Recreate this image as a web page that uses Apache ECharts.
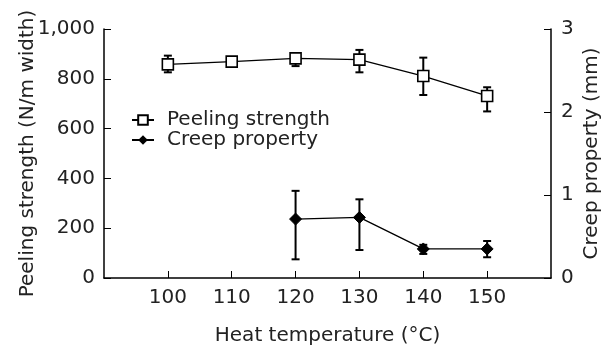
<!DOCTYPE html>
<html>
<head>
<meta charset="utf-8">
<script src="https://cdn.jsdelivr.net/npm/echarts@6/dist/echarts.min.js"></script>
<style>
  html, body { margin: 0; padding: 0; background: #fff; }
  #main { width: 613px; height: 351px; }
</style>
</head>
<body>
<div id="main"></div>
<script>
// heat temperature (°C)
var temps = [100, 110, 120, 130, 140, 150];
var xTicks = [100, 110, 120, 130, 140, 150];

// peeling strength (N/m width) with error limits
var peelMean = [858, 869, 882, 877, 811, 731];
var peelLow = [826, 866, 851, 826, 735, 669];
var peelHigh = [893, 872, 893, 916, 885, 766];

// creep property (mm), only measured from 120 °C
var creepTemps = [120, 130, 140, 150];
var creepMean = [0.71, 0.73, 0.35, 0.35];
var creepLow = [0.225, 0.337, 0.29, 0.25];
var creepHigh = [1.05, 0.948, 0.40, 0.446];

var FONT = 'DejaVu Sans';
var FS = 20;
var TXT = '#222';

function pairs(xs, ys) {
	var out = [];
	for (var i = 0; i < xs.length; i++) out.push([xs[i], ys[i]]);
	return out;
}
function triples(xs, lo, hi) {
	var out = [];
	for (var i = 0; i < xs.length; i++) out.push([xs[i], lo[i], hi[i]]);
	return out;
}

// error bar: vertical line with small caps
function errorBar(params, api) {
	var x = api.value(0);
	var lo = api.coord([x, api.value(1)]);
	var hi = api.coord([x, api.value(2)]);
	var w = 4;
	var st = { stroke: '#000', lineWidth: 2 };
	return {
		type: 'group',
		children: [
			{ type: 'line', shape: { x1: lo[0], y1: lo[1], x2: hi[0], y2: hi[1] }, style: st },
			{ type: 'line', shape: { x1: lo[0] - w, y1: lo[1], x2: lo[0] + w, y2: lo[1] }, style: st },
			{ type: 'line', shape: { x1: hi[0] - w, y1: hi[1], x2: hi[0] + w, y2: hi[1] }, style: st }
		]
	};
}

var chart = echarts.init(document.getElementById('main'));
chart.setOption({
	animation: false,
	textStyle: { fontFamily: FONT },
	grid: { left: 104, right: 62, top: 29, bottom: 73, outerBoundsMode: 'none' },
	legend: {
		orient: 'vertical',
		left: 126,
		top: 105,
		itemWidth: 22,
		itemHeight: 12,
		itemGap: 0,
		textStyle: { fontFamily: FONT, fontSize: FS, color: TXT, padding: [0, 0, 0, 8] },
		data: ['Peeling strength', 'Creep property']
	},
	xAxis: {
		type: 'value',
		min: 90,
		max: 160,
		interval: 10,
		name: 'Heat temperature (°C)',
		nameLocation: 'middle',
		nameGap: 48,
		nameMoveOverlap: false,
		nameTextStyle: { fontFamily: FONT, fontSize: FS, color: TXT },
		axisLine: { lineStyle: { color: '#000', width: 1.5 } },
		axisTick: { inside: true, length: 7, lineStyle: { color: '#000' }, customValues: xTicks },
		axisLabel: { margin: 10, fontSize: FS, color: TXT, customValues: xTicks },
		splitLine: { show: false }
	},
	yAxis: [{
		type: 'value',
		min: 0,
		max: 1000,
		interval: 200,
		name: 'Peeling strength (N/m width)',
		nameLocation: 'middle',
		nameGap: 66,
		nameMoveOverlap: false,
		nameTextStyle: { fontFamily: FONT, fontSize: FS, color: TXT },
		axisLine: { show: true, lineStyle: { color: '#000', width: 1.5 } },
		axisTick: { show: true, inside: true, length: 7, lineStyle: { color: '#000' } },
		axisLabel: {
			margin: 9, fontSize: FS, color: TXT,
			formatter: function (v) { return v >= 1000 ? '1,000' : String(v); }
		},
		splitLine: { show: false }
	}, {
		type: 'value',
		min: 0,
		max: 3,
		interval: 1,
		position: 'right',
		name: 'Creep property (mm)',
		nameLocation: 'middle',
		nameGap: 31,
		nameMoveOverlap: false,
		nameRotate: 90,
		nameTextStyle: { fontFamily: FONT, fontSize: FS, color: TXT },
		axisLine: { show: true, lineStyle: { color: '#000', width: 1.5 } },
		axisTick: { show: true, inside: true, length: 7, lineStyle: { color: '#000' } },
		axisLabel: { margin: 10, fontSize: FS, color: TXT },
		splitLine: { show: false }
	}],
	series: [{
		type: 'custom',
		yAxisIndex: 0,
		renderItem: errorBar,
		data: triples(temps, peelLow, peelHigh),
		z: 1
	}, {
		type: 'custom',
		yAxisIndex: 1,
		renderItem: errorBar,
		data: triples(creepTemps, creepLow, creepHigh),
		z: 1
	}, {
		name: 'Peeling strength',
		type: 'line',
		yAxisIndex: 0,
		data: pairs(temps, peelMean),
		symbol: 'rect',
		symbolSize: 11,
		lineStyle: { color: '#000', width: 1.3 },
		itemStyle: { color: '#fff', borderColor: '#000', borderWidth: 1.6 },
		z: 3
	}, {
		name: 'Creep property',
		type: 'line',
		yAxisIndex: 1,
		data: pairs(creepTemps, creepMean),
		symbol: 'diamond',
		symbolSize: 12,
		lineStyle: { color: '#000', width: 1.3 },
		itemStyle: { color: '#000', borderColor: '#000' },
		z: 3
	}]
});
</script>
</body>
</html>
